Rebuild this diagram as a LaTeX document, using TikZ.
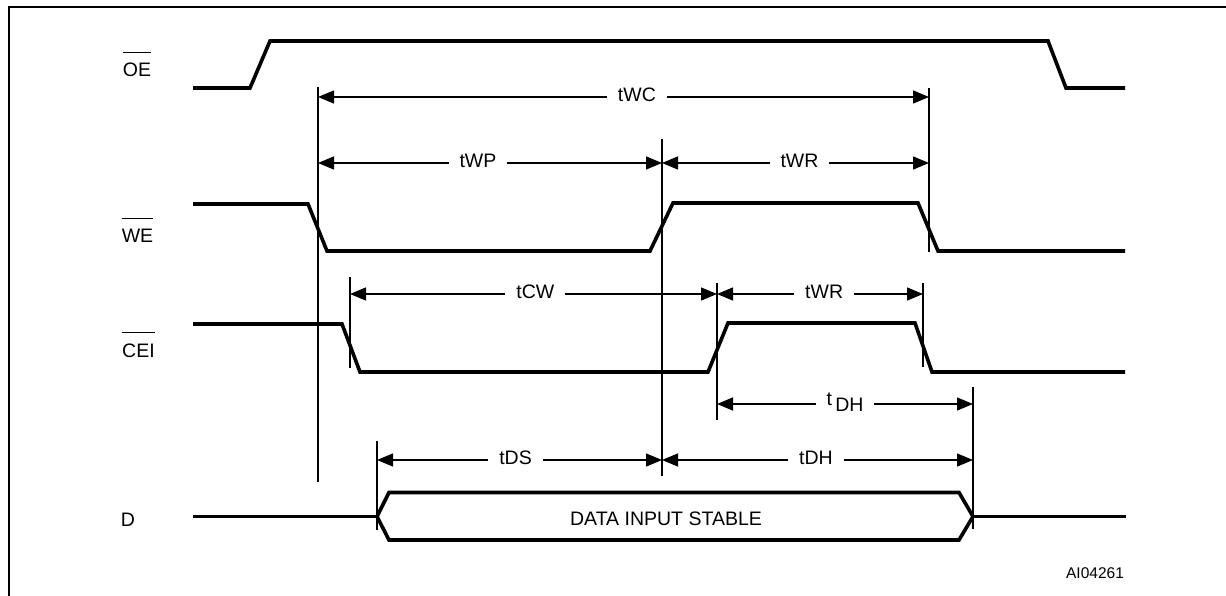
\documentclass[tikz,border=0pt]{standalone}
\usepackage{fontspec}
\setmainfont{Liberation Sans}
\usetikzlibrary{arrows.meta}
\newcommand{\barred}[1]{\leavevmode\vbox{\hrule height 1.3pt\kern 10.5pt\hbox{#1}}}
\tikzset{
  sig/.style={line width=3.6pt, line join=miter},
  guide/.style={line width=1.4pt},
  dim/.style={line width=1.4pt, {Triangle[length=16pt,width=13pt]}-{Triangle[length=16pt,width=13pt]}},
  lbl/.style={fill=white, inner xsep=11pt, inner ysep=1pt, yshift=2pt, font=\fontsize{19.5}{22}\selectfont},
  signame/.style={anchor=base, inner sep=0pt, font=\fontsize{19.5}{22}\selectfont},
}
\begin{document}
\begin{tikzpicture}[x=1pt,y=-1pt]
  \useasboundingbox (0,0) rectangle (1226,596);
  % frame
  \draw[line width=2.7pt] (9,596) -- (9,7) -- (1226,7);
  % signal names
  \node[signame] (oe) at (137,77) {\barred{OE}};
  \node[signame] (we) at (137.5,243) {\barred{WE}};
  \node[signame] (cei) at (138.5,357) {\barred{CEI}};
  \node[signame] (d) at (128,526) {D};
  % waveforms
  \draw[sig] (193,88)--(250,88)--(270,41)--(1048,41)--(1066,88)--(1125,88);
  \draw[sig] (193,204)--(308,204)--(327,251)--(650,251)--(673,203)--(918,203)--(938,251)--(1125,251);
  \draw[sig] (193,324)--(342,324)--(360,372)--(708,372)--(728,323)--(915,323)--(932,372)--(1125,372);
  \draw[sig] (193,516.5)--(377,516.5);
  \draw[sig] (973,516.5)--(1126,516.5);
  \draw[sig] (377,516.5)--(389,492.5)--(959,492.5)--(973,516.5)--(959,540)--(389,540)--cycle;
  \node[inner sep=0pt, font=\fontsize{19.5}{22}\selectfont] (stable) at (666,519) {DATA INPUT STABLE};
  % reference lines
  \draw[guide] (318,87) -- (318,482);
  \draw[guide] (662,139) -- (662,476);
  \draw[guide] (929,88) -- (929,252);
  \draw[guide] (350,277) -- (350,368);
  \draw[guide] (717,283) -- (717,420);
  \draw[guide] (923,283) -- (923,367);
  \draw[guide] (377,441) -- (377,530);
  \draw[guide] (973,387) -- (973,529);
  % timings
  \coordinate (wcL) at (318,97);   \coordinate (wcR) at (929,97);
  \coordinate (wpL) at (318,163);  \coordinate (wpR) at (662,163);
  \coordinate (wrR) at (929,163);
  \coordinate (cwL) at (350,294);  \coordinate (cwR) at (717,294);
  \coordinate (crR) at (923,294);
  \coordinate (dhL) at (717,404);  \coordinate (dhR) at (973,404);
  \coordinate (dsL) at (377,460);  \coordinate (dsR) at (662,460);
  \coordinate (dhE) at (973,460);
  \draw[dim] (wcL) -- (wcR) node[lbl,pos=.522] (twc) {tWC};
  \draw[dim] (wpL) -- (wpR) node[lbl,pos=.465] (twp) {tWP};
  \draw[dim] (wpR) -- (wrR) node[lbl,pos=.515] (twr) {tWR};
  \draw[dim] (cwL) -- (cwR) node[lbl,pos=.505] (tcw) {tCW};
  \draw[dim] (cwR) -- (crR) node[lbl,pos=.52] (twr2) {tWR};
  \draw[dim] (dhL) -- (dhR) node[lbl,pos=.5] (tdh2) {t\raisebox{-6pt}{\,DH}};
  \draw[dim] (dsL) -- (dsR) node[lbl,pos=.486] (tds) {tDS};
  \draw[dim] (dsR) -- (dhE) node[lbl,pos=.495] (tdh) {tDH};
  \node[inner sep=0pt, font=\fontsize{15.5}{18}\selectfont] (fig) at (1095,573) {AI04261};
\end{tikzpicture}
\end{document}
